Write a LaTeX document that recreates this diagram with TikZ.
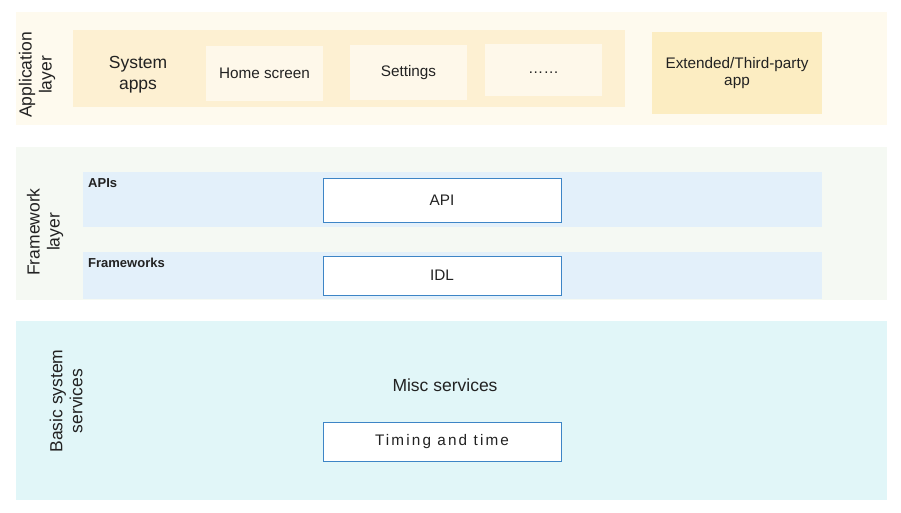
\documentclass[tikz,border=0pt]{standalone}
\usepackage{fontspec}
\setmainfont{Liberation Sans}
\usetikzlibrary{positioning}

\definecolor{appouter}{HTML}{FEFAEE}
\definecolor{appband}{HTML}{FDF0D2}
\definecolor{appbox}{HTML}{FEF8EA}
\definecolor{extbox}{HTML}{FCEDC2}
\definecolor{fwouter}{HTML}{F5F9F3}
\definecolor{fwband}{HTML}{E3F0FA}
\definecolor{bsouter}{HTML}{E1F6F8}
\definecolor{boxline}{HTML}{3D85C6}
\definecolor{txt}{HTML}{222222}

\tikzset{
  area/.style={anchor=north west, inner sep=0, outer sep=0, draw=none},
  appitem/.style={area, fill=appbox, align=center, font=\fontsize{15.3}{17}\selectfont, text=txt},
  svcbox/.style={area, fill=white, draw=boxline, line width=1pt, font=\fontsize{15.3}{17}\selectfont, text=txt},
  layerlabel/.style={rotate=90, align=center, font=\fontsize{17.5}{20}\selectfont, text=txt},
  bandlabel/.style={anchor=north west, inner sep=0, font=\bfseries\fontsize{13}{15}\selectfont, text=txt}
}

\begin{document}
\begin{tikzpicture}[x=1pt,y=-1pt]

\useasboundingbox (0,0) rectangle (901,513);

% application layer
\node[area, fill=appouter, minimum width=871, minimum height=113] (app) at (16,12) {};
\node[area, fill=appband, minimum width=552, minimum height=77] (sysapps) at (73,30) {};
\node[appitem, minimum width=117, minimum height=55] (home) at (206,46) {Home screen};
\node[appitem, minimum width=117, minimum height=55] (settings) at (350,45) {Settings};
\node[appitem, minimum width=117, minimum height=52] (more) at (485,44) {\raisebox{-4pt}[0pt][0pt]{……}};
\node[appitem, fill=extbox, minimum width=170, minimum height=82] (ext) at (652,32) {Extended/Third-party\\app};
\node[align=center, font=\fontsize{17.5}{21}\selectfont, text=txt] (sysappstxt) at (138,75) {System\\apps};
\node[layerlabel] (applabel) at (37,75) {Application\\layer};

% framework layer
\node[area, fill=fwouter, minimum width=871, minimum height=153] (fw) at (16,147) {};
\node[area, fill=fwband, minimum width=739, minimum height=55] (apis) at (83,172) {};
\node[area, fill=fwband, minimum width=739, minimum height=47] (fws) at (83,252) {};
\node[bandlabel] (apistxt) at (88,178) {APIs};
\node[bandlabel] (fwstxt) at (88,258) {Frameworks};
\node[svcbox, minimum width=238, minimum height=44] (api) at (323,178) {API};
\node[svcbox, minimum width=238, minimum height=39] (idl) at (323,256) {IDL};
\node[layerlabel] (fwlabel) at (45,232) {Framework\\layer};

% basic system services
\node[area, fill=bsouter, minimum width=871, minimum height=179] (bs) at (16,321) {};
\node[font=\fontsize{17.5}{19}\selectfont, text=txt] (misc) at (445,385) {Misc services};
\node[svcbox, minimum width=238, minimum height=39, font=\addfontfeature{LetterSpace=14}\fontsize{15.3}{17}\selectfont] (timing) at (323,422) {Timing and time};
\node[layerlabel] (bslabel) at (66,401) {Basic system\\services};

\end{tikzpicture}
\end{document}
